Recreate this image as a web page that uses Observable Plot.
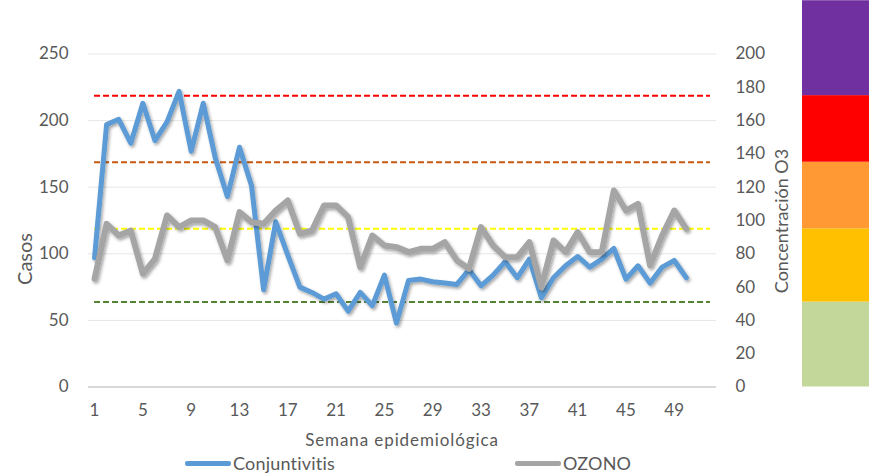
<!DOCTYPE html>
<html><head><meta charset="utf-8">
<script src="https://cdn.jsdelivr.net/npm/d3@7"></script>
<script src="https://cdn.jsdelivr.net/npm/@observablehq/plot@0.6"></script>
<style>
body{margin:0;background:#fff;}
#wrap{position:relative;width:875px;height:476px;font-family:Lato,sans-serif;color:#595959;overflow:hidden;}
#main{position:absolute;left:0;top:0;}
#bar{position:absolute;left:802px;top:0;}
.leg{position:absolute;top:452px;height:22px;display:flex;align-items:center;font-size:18px;letter-spacing:0.2px;}
.sw{width:46px;height:5px;border-radius:2px;margin-right:2px;}
</style></head><body><div id="wrap"><div id="main"></div><div id="bar"></div>
<div class="leg" style="left:185px"><div class="sw" style="background:#5B9BD5"></div>Conjuntivitis</div>
<div class="leg" style="left:515px"><div class="sw" style="background:#A5A5A5"></div>OZONO</div>
</div>
<script>
const semanas = d3.range(1, 51);
const conjuntivitis = [97,197,201,183,213,185,199,222,177,213,
  172,143,180,151,73,124,99,75,71,66,
  70,57,71,61,84,48,80,81,79,78,
  77,88,76,84,94,82,96,67,82,91,
  98,90,96,104,81,91,78,90,95,82];
const ozono = [65,98,91,94,68,77,103,96,100,100,
  96,76,105,99,98,106,112,92,94,109,
  109,102,72,91,85,84,81,83,83,87,
  76,71,96,85,78,78,87,60,88,81,
  93,81,81,118,106,110,73,91,106,95];
const umbrales = [51, 95, 135, 175];
const umbralColores = ["#548235", "#FFFF00", "#C55A11", "#FF0000"];
const bandas = [0, 51, 95, 135, 175, 232];
const bandaColores = ["#C4D79B", "#FFC000", "#FF9933", "#FF0000", "#7030A0"];
const ticksCasos = [0, 50, 100, 150, 200, 250];
const ticksO3 = [0, 20, 40, 60, 80, 100, 120, 140, 160, 180, 200];
const ticksSemana = [1, 5, 9, 13, 17, 21, 25, 29, 33, 37, 41, 45, 49];
const k = 250 / 200; // escala secundaria -> primaria

const serie = semanas.map((s, i) => ({semana: s, casos: conjuntivitis[i], o3: ozono[i] * k}));
const lineasUmbral = umbrales.map((v, i) => ({y: v * k, color: umbralColores[i]}));
const bandTable = bandaColores.map((c, i) => ({y1: bandas[i] * k, y2: bandas[i + 1] * k, color: c}));

const H = 446, MT = 53.5, MB = 59.5;
const chart = Plot.plot({
  width: 875, height: H,
  marginTop: MT, marginBottom: MB, marginLeft: 88, marginRight: 159,
  style: {fontFamily: "Lato, sans-serif", fontSize: "17px", color: "#595959", background: "transparent", overflow: "visible"},
  x: {domain: [0.5, 52.5], axis: null},
  y: {domain: [0, 250], axis: null},
  marks: [
    Plot.ruleY(ticksCasos.filter(d => d > 0), {stroke: "#E6E6E6", strokeWidth: 1}),
    Plot.ruleY([0], {stroke: "#D9D9D9", strokeWidth: 2}),
    Plot.axisX({ticks: ticksSemana, tickSize: 0, tickPadding: 17, tickFormat: d => d, label: null}),
    Plot.axisY({ticks: ticksCasos, anchor: "left", tickSize: 0, tickPadding: 20, label: null}),
    Plot.axisY({ticks: ticksO3.map(v => v * k), tickFormat: v => Math.round(v / k), anchor: "right", tickSize: 0, tickPadding: 19, textAnchor: "start", label: null}),
    Plot.ruleY(lineasUmbral, {y: "y", x1: () => 1, x2: () => 52, stroke: "color", strokeWidth: 2, strokeDasharray: "6,3"}),
    Plot.line(serie, {x: "semana", y: "casos", stroke: "#5B9BD5", strokeWidth: 5}),
    Plot.line(serie, {x: "semana", y: "o3", stroke: "#A5A5A5", strokeWidth: 6})
  ]
});
const svg = d3.select(chart);
const defs = svg.insert("defs", ":first-child");
const f = defs.append("filter").attr("id", "sh").attr("x", "-10%").attr("y", "-10%").attr("width", "120%").attr("height", "120%");
f.append("feDropShadow").attr("dx", 1.5).attr("dy", 2).attr("stdDeviation", 1.6).attr("flood-color", "#000").attr("flood-opacity", 0.35);
svg.selectAll('g[aria-label="line"]').attr("filter", "url(#sh)");
svg.append("text").attr("transform", "translate(32,259) rotate(-90)").attr("text-anchor", "middle").attr("fill", "#595959").attr("font-size", 20).text("Casos");
svg.append("text").attr("transform", "translate(788,221) rotate(-90)").attr("text-anchor", "middle").attr("fill", "#595959").attr("font-size", 18).text("Concentración O3");
svg.append("text").attr("x", 402).attr("y", 446).attr("text-anchor", "middle").attr("fill", "#595959").attr("font-size", 17).attr("letter-spacing", "0.9px").text("Semana epidemiológica");
document.getElementById("main").appendChild(chart);

const bar = Plot.plot({
  width: 67, height: H, marginTop: MT, marginBottom: MB, marginLeft: 0, marginRight: 0,
  style: {background: "transparent", overflow: "visible"},
  x: {axis: null}, y: {domain: [0, 250], axis: null},
  marks: [Plot.rect(bandTable, {y1: "y1", y2: "y2", fill: "color"})]
});
document.getElementById("bar").appendChild(bar);
</script></body></html>
